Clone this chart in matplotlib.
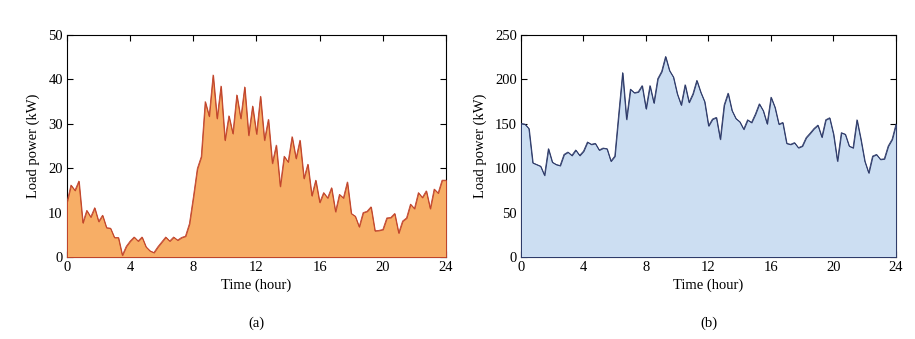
import numpy as np
import matplotlib
matplotlib.use("Agg")
from matplotlib import pyplot as plt

plt.rcParams['font.family'] = ['Liberation Serif', 'DejaVu Serif']
plt.rcParams['font.size'] = 10

# time axis, 15 minute steps over one day
hours = np.arange(0, 24.01, 0.25)

# (a) load power, kW
load_a = [12.4, 16.2, 15.0, 17.1, 7.7, 10.5, 9.0, 11.1, 8.0, 9.4, 6.6, 6.5,
          4.4, 4.4, 0.4, 2.4, 3.6, 4.5, 3.6, 4.5, 2.3, 1.4, 1.0, 2.3,
          3.4, 4.5, 3.6, 4.5, 3.8, 4.4, 4.7, 7.5, 13.5, 19.9, 22.6, 35.0,
          31.7, 41.0, 31.2, 38.5, 26.3, 31.8, 27.8, 36.5, 31.2, 38.3, 27.4, 34.0,
          27.7, 36.2, 26.3, 31.0, 21.1, 25.2, 15.9, 22.7, 21.4, 27.1, 22.2, 26.3,
          17.7, 20.9, 13.8, 17.3, 12.3, 14.5, 13.3, 15.6, 10.2, 14.1, 13.3, 16.9,
          9.8, 9.2, 6.8, 10.0, 10.3, 11.3, 5.9, 6.0, 6.2, 8.8, 8.9, 9.8,
          5.4, 8.1, 8.8, 11.9, 10.9, 14.5, 13.4, 14.9, 10.9, 15.3, 14.4, 17.3,
          17.3]

# (b) load power, kW
load_b = [150.4, 149.6, 144.7, 106.1, 104.2, 102.3, 92.0, 122.0, 106.8, 104.2, 103.0, 115.5,
          118.2, 114.4, 120.5, 114.4, 119.3, 129.5, 126.9, 128.0, 120.5, 122.7, 122.0, 108.0,
          113.6, 161.0, 207.6, 155.0, 189.0, 185.0, 186.0, 193.0, 167.0, 193.0, 173.5, 200.8,
          209.0, 225.8, 210.0, 202.7, 183.7, 171.2, 194.0, 174.2, 183.7, 198.9, 185.6, 175.0,
          147.7, 155.3, 157.2, 132.6, 171.2, 184.5, 165.0, 156.0, 152.3, 143.9, 154.5, 151.5,
          161.0, 172.5, 164.8, 150.0, 180.0, 168.6, 149.6, 151.5, 128.0, 126.9, 128.8, 123.1,
          125.0, 134.5, 139.4, 144.7, 148.5, 135.0, 154.5, 156.8, 138.3, 108.0, 140.0, 138.3,
          125.0, 123.0, 154.5, 132.6, 108.0, 94.7, 113.6, 115.5, 110.0, 110.6, 125.0, 132.6,
          149.6]

xticks = [0, 4, 8, 12, 16, 20, 24]

fig = plt.figure(figsize=(9.15, 3.39), dpi=100)
ax1 = fig.add_axes([0.0732, 0.2419, 0.4142, 0.6549])
ax2 = fig.add_axes([0.5694, 0.2419, 0.4098, 0.6549])


def draw_panel(ax, y, fill_col, line_col, ymax, ystep, tag):
    ax.fill_between(hours, 0, y, facecolor=fill_col, edgecolor=line_col,
                    linewidth=0.7, zorder=3)
    ax.plot(hours, y, color=line_col, linewidth=0.6, zorder=4)
    ax.set_xlim(0, 24)
    ax.set_ylim(0, ymax)
    ax.set_xticks(xticks)
    ax.set_yticks(np.arange(0, ymax + 1, ystep))
    ax.tick_params(direction='in', top=True, right=True, length=4,
                   width=0.8, labelsize=10.5, pad=3)
    for s in ax.spines.values():
        s.set_linewidth(0.8)
    ax.set_xlabel("Time (hour)", fontsize=10.5, labelpad=3)
    ax.set_ylabel("Load power (kW)", fontsize=10.5, labelpad=6)
    ax.text(0.5, -0.30, tag, transform=ax.transAxes, ha='center',
            va='center', fontsize=10.5)


draw_panel(ax1, load_a, '#F7AE66', '#C2452B', 50, 10, '(a)')
draw_panel(ax2, load_b, '#CCDEF2', '#2D3A69', 250, 50, '(b)')

fig.savefig("out.png", dpi=100)
